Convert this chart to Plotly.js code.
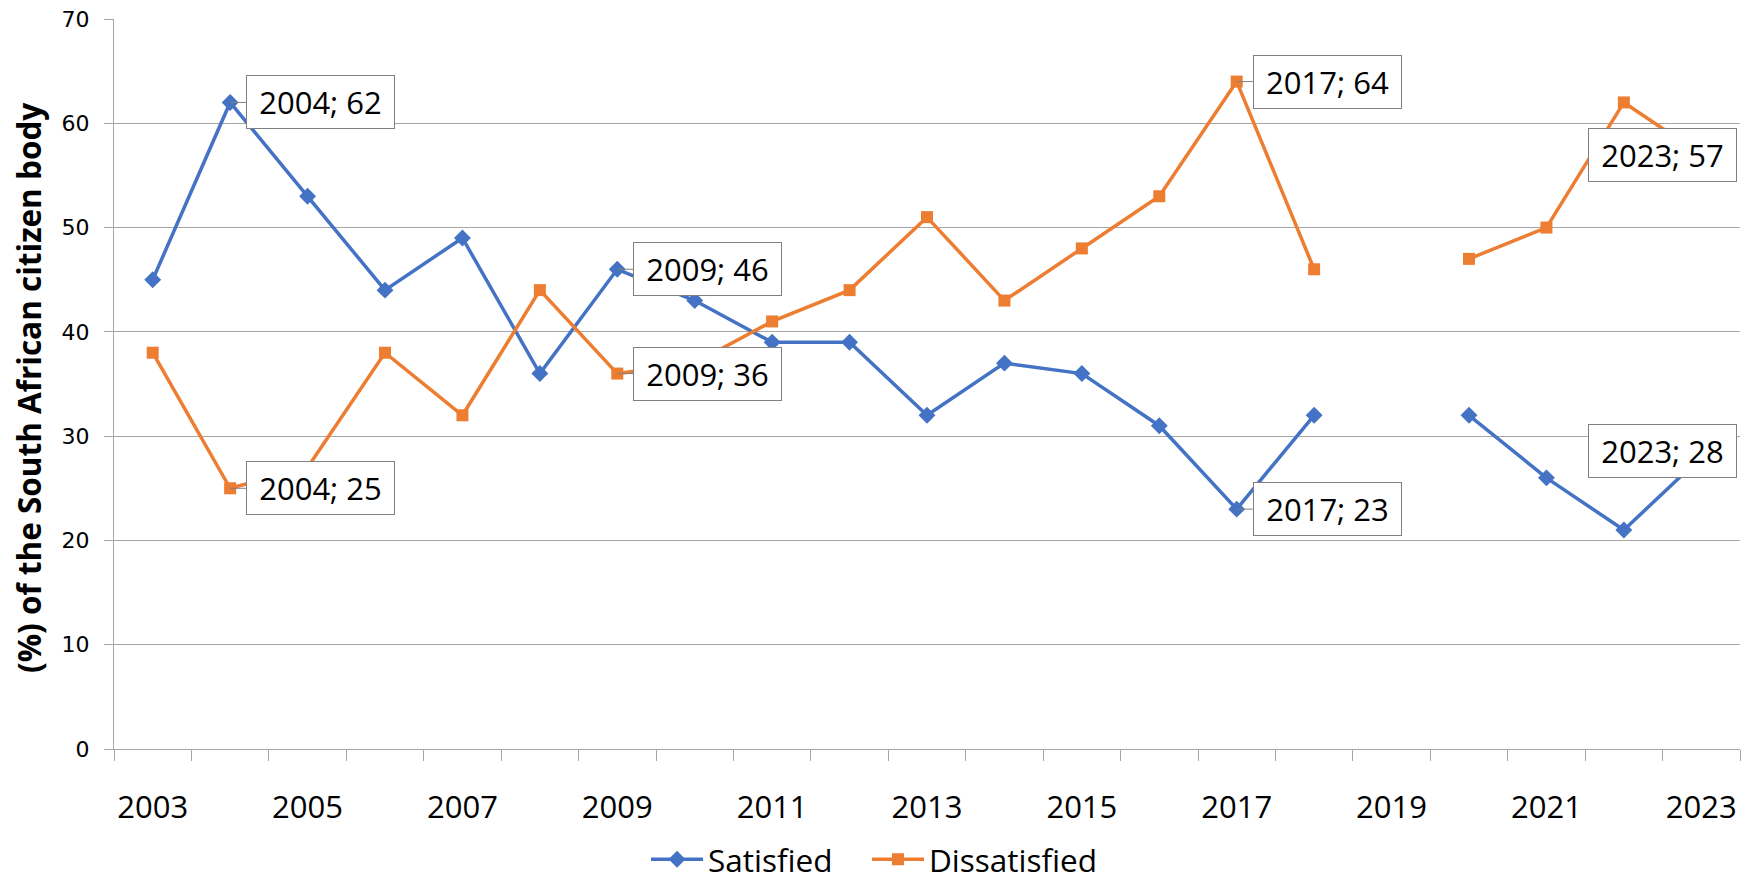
<!DOCTYPE html>
<html><head><meta charset="utf-8">
<script src="https://cdn.plot.ly/plotly-3.0.1.min.js"></script>
<style>html,body{margin:0;padding:0;background:#fff}#chart{width:1756px;height:881px}</style>
</head><body><div id="chart"></div>
<script>
// ---- data ----
const years = ['2003','2004','2005','2006','2007','2008','2009','2010','2011','2012','2013',
               '2014','2015','2016','2017','2018','2019','2020','2021','2022','2023'];
const satisfied    = [45,62,53,44,49,36,46,43,39,39,32,37,36,31,23,32,null,32,26,21,28];
const dissatisfied = [38,25,27,38,32,44,36,37,41,44,51,43,48,53,64,46,null,47,50,62,57];
const tickLabels = years.map((y, i) => (i % 2 === 0 ? y : ''));
const calloutYears = ['2004', '2009', '2017', '2023'];
const yTitle = '(%) of the South African citizen body';

// ---- styles ----
const BLUE = '#4472C4', ORANGE = '#ED7D31', GREY = '#A6A6A6', BOXLINE = '#7F7F7F';
const FONT = 'Open Sans, Liberation Sans, sans-serif';

function callout(year, series) {
  const i = years.indexOf(year);
  const v = series[i];
  const last = i === years.length - 1;
  const base = {
    x: i, y: v, xref: 'x', yref: 'y',
    text: year + '; ' + v,
    font: {family: FONT, size: 31, color: '#000'},
    bgcolor: '#fff', bordercolor: BOXLINE, borderwidth: 1, borderpad: 6,
    width: 135, height: 40
  };
  if (last) {
    return Object.assign(base, {showarrow: false, xshift: -39, yshift: (series === satisfied ? 6 : 0)});
  }
  return Object.assign(base, {
    showarrow: true, ax: 16, ay: 0,
    xanchor: 'left', yanchor: 'middle',
    arrowhead: 0, arrowwidth: 1, arrowcolor: BOXLINE, standoff: 0
  });
}

const annotations = [];
calloutYears.forEach(y => { annotations.push(callout(y, satisfied)); annotations.push(callout(y, dissatisfied)); });
// y-axis title (placed as rotated text in the left margin)
annotations.push({
  text: '<b>' + yTitle + '</b>', xref: 'paper', yref: 'paper', x: -0.0529, y: 0.4945,
  xanchor: 'center', yanchor: 'middle', textangle: -90, showarrow: false,
  font: {family: 'Open Sans, Liberation Sans, sans-serif', size: 31.5, color: '#000'}
});

const traces = [
  {x: years, y: satisfied, name: 'Satisfied', type: 'scatter', mode: 'lines+markers', legend: 'legend',
   connectgaps: false, line: {color: BLUE, width: 3.5}, marker: {symbol: 'diamond', size: 13, color: BLUE}},
  {x: years, y: dissatisfied, name: 'Dissatisfied', type: 'scatter', mode: 'lines+markers', legend: 'legend2',
   connectgaps: false, line: {color: ORANGE, width: 3.5}, marker: {symbol: 'square', size: 12, color: ORANGE}}
];

const legendStyle = {orientation: 'h', xanchor: 'left', y: -0.151, yanchor: 'middle',
  font: {family: FONT, size: 31.5, color: '#000'}, itemwidth: 52, bgcolor: 'rgba(0,0,0,0)'};

const layout = {
  width: 1756, height: 881,
  margin: {l: 114, r: 16, t: 19, b: 132, autoexpand: false},
  paper_bgcolor: '#fff', plot_bgcolor: '#fff',
  showlegend: true,
  legend: Object.assign({}, legendStyle, {x: 0.3272}),
  legend2: Object.assign({}, legendStyle, {x: 0.4631}),
  xaxis: {
    type: 'category', categoryorder: 'array', categoryarray: years,
    range: [-0.5, years.length - 0.5], autorange: false,
    tickmode: 'array', tickvals: years, ticktext: tickLabels, tickangle: 0,
    tickson: 'boundaries', ticks: 'outside', ticklen: 11, tickcolor: GREY, tickwidth: 1,
    ticklabelstandoff: 31,
    showline: true, linecolor: GREY, linewidth: 1, showgrid: false, zeroline: false,
    tickfont: {family: FONT, size: 31, color: '#000'}, fixedrange: true, automargin: false
  },
  yaxis: {
    range: [0, 70], autorange: false, dtick: 10, tick0: 0, ticks: 'outside', ticklen: 9, tickcolor: GREY,
    ticklabelstandoff: 10,
    showline: true, linecolor: GREY, linewidth: 1, showgrid: true, gridcolor: GREY, gridwidth: 1,
    zeroline: false, tickfont: {family: 'DejaVu Sans, Verdana, sans-serif', size: 22, color: '#000'},
    automargin: false, fixedrange: true
  },
  annotations: annotations
};

Plotly.newPlot('chart', traces, layout, {displayModeBar: false, staticPlot: true});
</script>
</body></html>
